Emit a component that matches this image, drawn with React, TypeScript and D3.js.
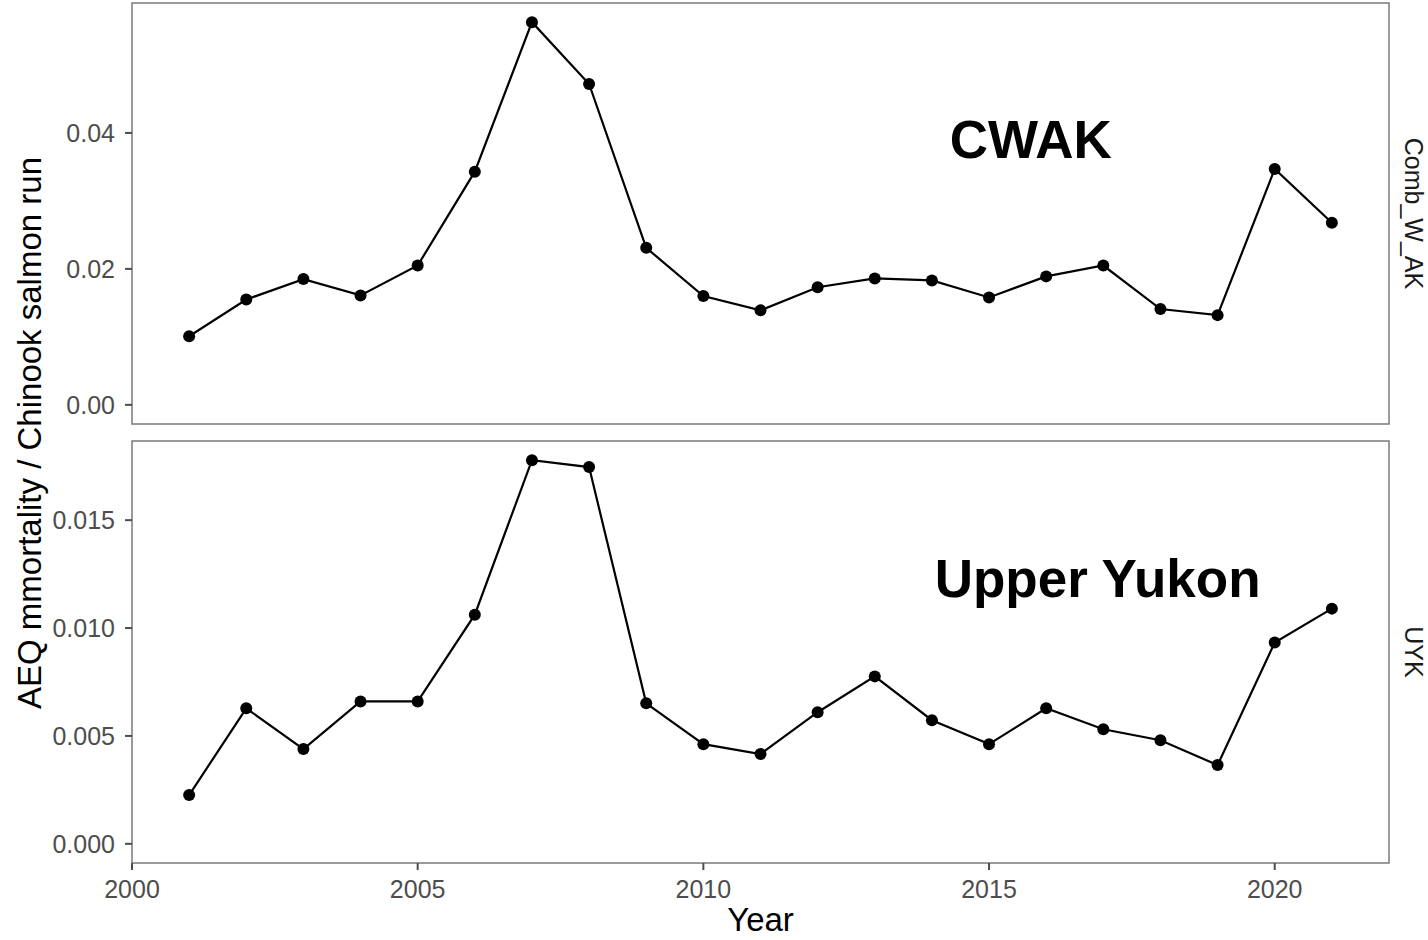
import * as d3 from 'd3';
import React from 'react';

// data
const years = [
  2001, 2002, 2003, 2004, 2005, 2006, 2007, 2008, 2009, 2010, 2011, 2012, 2013,
  2014, 2015, 2016, 2017, 2018, 2019, 2020, 2021,
];
const cwakValues = [
  0.0101, 0.0155, 0.0185, 0.0161, 0.0205, 0.0343, 0.0563, 0.0472, 0.0231,
  0.016, 0.0139, 0.0173, 0.0186, 0.0183, 0.0158, 0.0189, 0.0205, 0.0141,
  0.0132, 0.0347, 0.0268,
];
const uykValues = [
  0.00226, 0.00628, 0.00439, 0.0066, 0.0066, 0.01062, 0.01778, 0.01746,
  0.00651, 0.00462, 0.00416, 0.0061, 0.00776, 0.00573, 0.00462, 0.00628,
  0.00531, 0.0048, 0.00365, 0.00933, 0.0109,
];
const xTicks = [2000, 2005, 2010, 2015, 2020];
const cwakTicks = [0, 0.02, 0.04];
const uykTicks = [0, 0.005, 0.01, 0.015];

const panels = [
  { strip: 'Comb_W_AK', label: 'CWAK', labelX: 2015.73, labelY: 0.039, values: cwakValues, ticks: cwakTicks, fmt: '.2f', top: 3, bottom: 424 },
  { strip: 'UYK', label: 'Upper Yukon', labelX: 2016.9, labelY: 0.0123, values: uykValues, ticks: uykTicks, fmt: '.3f', top: 441, bottom: 863 },
];

const W = 1428;
const H = 940;
const left = 132;
const right = 1389;
const border = '#7a7a7a';
const tickCol = '#4d4d4d';
const font = 'Liberation Sans, Arial, sans-serif';

const x = d3.scaleLinear().domain([2000, 2022]).range([left, right]);

const Panel: React.FC<{ p: (typeof panels)[number] }> = ({ p }) => {
  const maxV = d3.max(p.values) as number;
  const pad = maxV * 0.05;
  const y = d3.scaleLinear().domain([-pad, maxV + pad]).range([p.bottom, p.top]);
  const pts = years.map((yr, i) => [yr, p.values[i]] as [number, number]);
  const path = d3
    .line<[number, number]>()
    .x((d) => x(d[0]))
    .y((d) => y(d[1]))(pts);
  const fmt = d3.format(p.fmt);
  return (
    <g>
      <path d={path ?? ''} fill="none" stroke="#000" strokeWidth={2.2} />
      {pts.map((d, i) => (
        <circle key={i} cx={x(d[0])} cy={y(d[1])} r={6} fill="#000" />
      ))}
      <rect
        x={left}
        y={p.top}
        width={right - left}
        height={p.bottom - p.top}
        fill="none"
        stroke={border}
        strokeWidth={1.5}
      />
      {p.ticks.map((t) => (
        <g key={t}>
          <line x1={left - 7} x2={left} y1={y(t)} y2={y(t)} stroke={tickCol} strokeWidth={2} />
          <text
            x={left - 17}
            y={y(t)}
            dy="0.35em"
            textAnchor="end"
            fontSize={25}
            fill={tickCol}
            fontFamily={font}
          >
            {fmt(t)}
          </text>
        </g>
      ))}
      <text
        x={x(p.labelX)}
        y={y(p.labelY)}
        dy="0.35em"
        textAnchor="middle"
        fontSize={53}
        fontWeight="bold"
        fill="#000"
        fontFamily={font}
      >
        {p.label}
      </text>
      <text
        transform={`translate(${1405}, ${(p.top + p.bottom) / 2}) rotate(90)`}
        textAnchor="middle"
        fontSize={25}
        fill="#1a1a1a"
        fontFamily={font}
      >
        {p.strip}
      </text>
    </g>
  );
};

const App: React.FC = () => {
  const axisY = panels[1].bottom;
  return (
    <svg
      width={W}
      height={H}
      style={{ position: 'absolute', top: 0, left: 0, background: '#fff' }}
    >
      {panels.map((p) => (
        <Panel key={p.strip} p={p} />
      ))}
      {xTicks.map((t) => (
        <g key={t}>
          <line x1={x(t)} x2={x(t)} y1={axisY} y2={axisY + 7} stroke={tickCol} strokeWidth={2} />
          <text
            x={x(t)}
            y={axisY + 35}
            textAnchor="middle"
            fontSize={25}
            fill={tickCol}
            fontFamily={font}
          >
            {t}
          </text>
        </g>
      ))}
      <text
        x={(left + right) / 2}
        y={931}
        textAnchor="middle"
        fontSize={33}
        fill="#000"
        fontFamily={font}
      >
        Year
      </text>
      <text
        transform={`translate(41, ${(panels[0].top + panels[1].bottom) / 2}) rotate(-90)`}
        textAnchor="middle"
        fontSize={33}
        fill="#000"
        fontFamily={font}
      >
        AEQ mmortality / Chinook salmon run
      </text>
    </svg>
  );
};

export default App;
